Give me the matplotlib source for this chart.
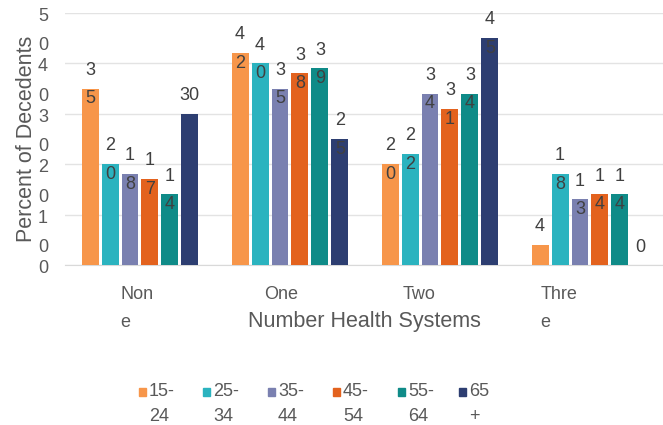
import numpy as np
import matplotlib.pyplot as plt
from matplotlib.patches import Rectangle
import matplotlib.transforms as mtransforms

# categories and series
categories = ['Non\ne', 'One', 'Two', 'Thre\ne']
age_groups = ['15-\n24', '25-\n34', '35-\n44', '45-\n54', '55-\n64', '65\n+']
values = {
    '15-24': [35, 42, 20, 4],
    '25-34': [20, 40, 22, 18],
    '35-44': [18, 35, 34, 13],
    '45-54': [17, 38, 31, 14],
    '55-64': [14, 39, 34, 14],
    '65+':   [30, 25, 45, 0],
}
colors = ['#F7964A', '#2BB3BF', '#7A80B0', '#E3621E', '#0F8B88', '#2D3E71']
y_ticks = [0, 10, 20, 30, 40, 50]

plt.rcParams['font.family'] = ['Liberation Sans', 'DejaVu Sans']
txt_col = '#404040'
tick_col = '#595959'

fig = plt.figure(figsize=(6.63, 4.25), dpi=100)
ax = fig.add_axes([65 / 663, 1 - 265 / 425, 598 / 663, 252 / 425])

x = np.arange(len(categories))
step = 0.133
width = 0.113
fs = 13

for i, (name, vals) in enumerate(values.items()):
    pos = x + (i - 2.5) * step
    ax.bar(pos, vals, width=width, color=colors[i], zorder=3)
    for j, (p, v) in enumerate(zip(pos, vals)):
        s = str(v)
        if len(s) > 1 and not (i == 5 and j == 0):
            lab = '\n'.join(s)
            off = 4
        else:
            lab = s
            off = 18
        ax.annotate(lab, (p, v), xytext=(0, off * 0.72), textcoords='offset points',
                    ha='center', va='center', fontsize=fs, color=txt_col,
                    linespacing=1.9, zorder=4)

ax.set_xlim(-0.5, 3.487)
ax.set_ylim(0, 50)
ax.set_yticks(y_ticks)
ax.set_yticklabels([])
ax.set_xticks([])
ax.tick_params(length=0)
for sp in ['top', 'right', 'left']:
    ax.spines[sp].set_visible(False)
ax.spines['bottom'].set_color('#d9d9d9')
ax.yaxis.grid(True, color='#e3e3e3', linewidth=1, zorder=0)

# wrapped y tick labels, first line centred on the tick
ytr = ax.get_yaxis_transform()
for t in y_ticks:
    s = str(t)
    lab = '\n'.join(s) if len(s) > 1 else s
    ax.text(-0.037, t, lab, ha='center', va='top', fontsize=fs,
            color=tick_col, linespacing=1.95,
            transform=ytr + mtransforms.ScaledTranslation(0, 5 / 100, fig.dpi_scale_trans))

# wrapped category labels (left aligned lines)
shift = [-0.013, -0.05, -0.13, -0.21]
xtr = ax.get_xaxis_transform()
for i, c in enumerate(categories):
    ax.text(x[i] + shift[i] - 0.12, -0.085, c, transform=xtr, ha='left', va='top',
            fontsize=fs, color=tick_col, linespacing=1.85)

ax.set_xlabel('Number Health Systems', fontsize=15.5, color=tick_col, labelpad=33)
ax.set_ylabel('Percent of Decedents', fontsize=15.5, color=tick_col, labelpad=17)

# legend drawn by hand, two-line labels with marker by the first line
leg_x = [143, 207, 272, 337, 402, 463]
for lx, lab, col in zip(leg_x, age_groups, colors):
    fig.patches.append(Rectangle(((lx - 4) / 663, 1 - 396 / 425), 7 / 663, 8 / 425,
                                 transform=fig.transFigure, color=col))
    fig.text((lx + 6) / 663, 1 - 383 / 425, lab, ha='left', va='top', fontsize=fs,
             color=tick_col, linespacing=1.6)

fig.savefig('out.png', dpi=100)
